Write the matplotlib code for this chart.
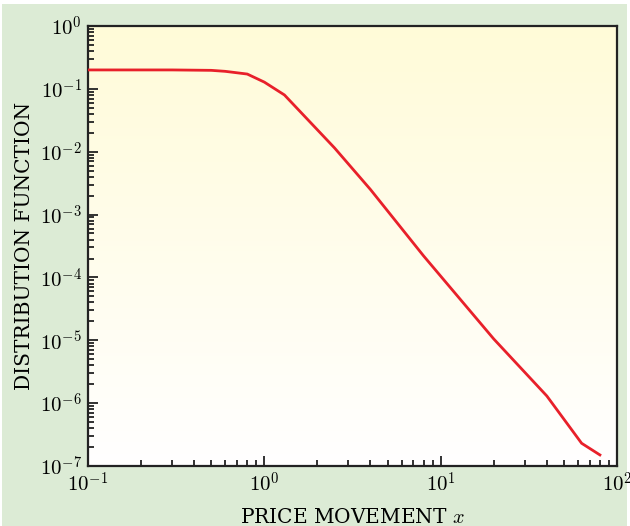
import numpy as np
import matplotlib
matplotlib.use("Agg")
import matplotlib.pyplot as plt
from matplotlib.patches import Rectangle
from matplotlib.ticker import FuncFormatter, LogLocator

# Courbe (échelle log-log)
price_move = [0.1, 0.3, 0.5, 0.6, 0.8, 1.0, 1.3, 2.5, 4.0, 8.0, 20.0, 40.0, 63.0, 80.0]
distribution = [0.2, 0.2, 0.197, 0.19, 0.172, 0.128, 0.08, 0.0115, 0.0025,
                2.2e-4, 1.05e-5, 1.3e-6, 2.3e-7, 1.5e-7]

plt.rcParams["font.family"] = "DejaVu Serif"
plt.rcParams["mathtext.fontset"] = "cm"

fig = plt.figure(figsize=(6.3, 5.26), dpi=100)
fig.patch.set_facecolor("white")
fig.patches.append(Rectangle((2 / 630, 0), 625 / 630, 522 / 526,
                             transform=fig.transFigure, facecolor="#dcebd5",
                             edgecolor="none", zorder=-10))

ax = fig.add_axes([88 / 630, 1 - 466 / 526, 529 / 630, 440 / 526])
ax.set_xscale("log")
ax.set_yscale("log")
ax.set_xlim(0.1, 100)
ax.set_ylim(1e-7, 1)

# fond dégradé jaune -> blanc
grad = np.linspace(0, 1, 256).reshape(-1, 1)
cmap = matplotlib.colors.LinearSegmentedColormap.from_list("bg", ["#fffbd8", "#ffffff"])
ax.imshow(grad, cmap=cmap, extent=[0, 1, 0, 1], transform=ax.transAxes,
          aspect="auto", zorder=0, origin="upper")

ax.plot(price_move, distribution, color="#e8202a", lw=2.0, zorder=3,
        solid_joinstyle="miter")

for s in ax.spines.values():
    s.set_linewidth(1.6)
    s.set_color("#222222")

pow10 = FuncFormatter(lambda v, p: r"$10^{%d}$" % round(np.log10(v)))
ax.xaxis.set_major_formatter(pow10)
ax.yaxis.set_major_formatter(pow10)
ax.yaxis.set_major_locator(LogLocator(base=10, numticks=10))
ax.yaxis.set_minor_locator(LogLocator(base=10, subs=np.arange(2, 10), numticks=20))

ax.tick_params(which="both", direction="in", top=False, right=False,
               labelsize=15, color="#222222", width=1.3)
ax.tick_params(which="major", length=7)
ax.tick_params(axis="x", which="major", pad=4)
ax.tick_params(axis="y", which="major", pad=4.5)
ax.tick_params(which="minor", length=4)

ax.set_xlabel("PRICE MOVEMENT $x$", fontsize=14.5)
ax.set_ylabel("DISTRIBUTION FUNCTION", fontsize=14.5)
ax.xaxis.set_label_coords(0.5, -(523 - 466) / 440, transform=ax.transAxes)
ax.yaxis.set_label_coords(-(88 - 25) / 529, 0.5, transform=ax.transAxes)
ax.xaxis.label.set_va("baseline")
ax.yaxis.label.set_va("center")

fig.savefig("out.png", dpi=100)
